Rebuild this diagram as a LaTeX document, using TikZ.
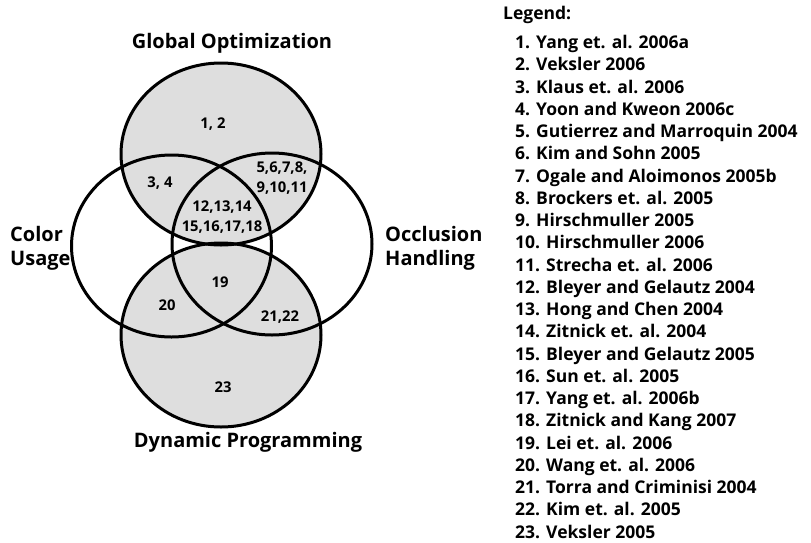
\documentclass[tikz,border=0pt]{standalone}
\usepackage{fontspec}
\setmainfont{Open Sans}
\begin{document}
\begin{tikzpicture}[x=1pt,y=-1pt,
  ring/.style={line width=3pt},
  lbl/.style={font=\bfseries\fontsize{20}{24}\selectfont, align=left, inner sep=0pt},
  rlbl/.style={font=\bfseries\fontsize{14.8}{20.5}\selectfont, align=center, inner sep=0pt},
  leg/.style={font=\bfseries\fontsize{17.5}{20}\selectfont, anchor=west, inner sep=0pt}]
\useasboundingbox (0,0) rectangle (811,542);
\definecolor{regiongray}{HTML}{DEDEDE}
\fill[regiongray] (221,154) ellipse [x radius=100, y radius=91];
\fill[regiongray] (221,335) ellipse [x radius=100, y radius=92];
\draw[ring] (221,154) ellipse [x radius=100, y radius=91];
\draw[ring] (171.5,246) ellipse [x radius=100, y radius=91];
\draw[ring] (272,244) ellipse [x radius=100, y radius=91];
\draw[ring] (221,335) ellipse [x radius=100, y radius=92];
\node[lbl] (go) at (232,43) {Global Optimization};
\node[lbl, anchor=west] (cu) at (10,248) {Color\\Usage};
\node[lbl, anchor=west] (oh) at (385,248) {Occlusion\\Handling};
\node[lbl] (dp) at (248,442) {Dynamic Programming};
\node[rlbl] (r12) at (213,124) {1, 2};
\node[rlbl] (r34) at (160,183) {3, 4};
\node[rlbl, align=right] (r511) at (282,178) {5,6,7,8,\\9,10,11};
\node[rlbl] (r1218) at (222,217) {12,13,14\\15,16,17,18};
\node[rlbl] (r19) at (220,282) {19};
\node[rlbl] (r20) at (167,305) {20};
\node[rlbl] (r2122) at (280,317) {21,22};
\node[rlbl] (r23) at (223,387) {23};
\node[leg] (lg) at (503,15) {Legend:};
\foreach \t [count=\i] in {Yang et. al. 2006a, Veksler 2006, Klaus et. al. 2006, Yoon and Kweon 2006c, Gutierrez and Marroquin 2004, Kim and Sohn 2005, Ogale and Aloimonos 2005b, Brockers et. al. 2005, Hirschmuller 2005, Hirschmuller 2006, Strecha et. al. 2006, Bleyer and Gelautz 2004, Hong and Chen 2004, Zitnick et. al. 2004, Bleyer and Gelautz 2005, Sun et. al. 2005, Yang et. al. 2006b, Zitnick and Kang 2007, Lei et. al. 2006, Wang et. al. 2006, Torra and Criminisi 2004, Kim et. al. 2005, Veksler 2005}
  \node[leg, anchor=base west] (l\i) at (515,{48.5+(\i-1)*22.25}) {\i. \t};
\end{tikzpicture}
\end{document}
